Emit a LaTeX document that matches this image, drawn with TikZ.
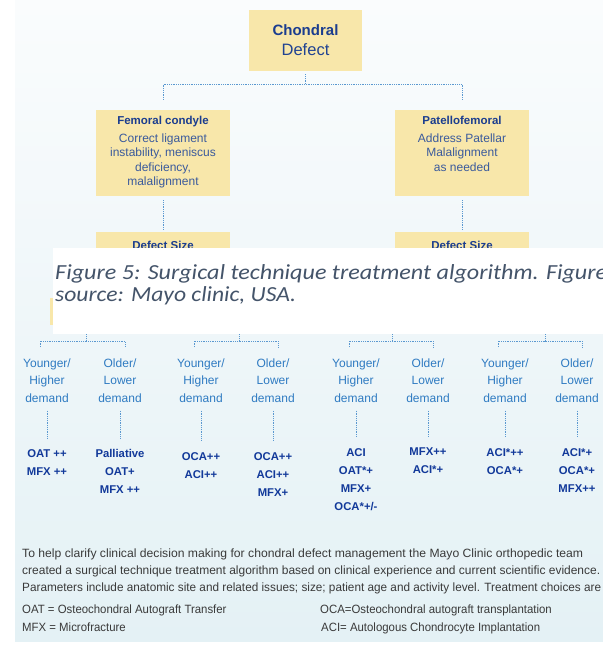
\documentclass[tikz,border=0pt]{standalone}
\usepackage{fontspec}
\usepackage{graphicx}
\usepackage{xcolor}
\usepackage{tikz}
\setmainfont{Liberation Sans}
\newfontfamily\narrowfont[FakeStretch=0.9]{Liberation Sans}
\newfontfamily\legendfont[FakeStretch=0.95]{Liberation Sans}
\newfontfamily\captionfont{Carlito}

\definecolor{boxyellow}{HTML}{F8E7AA}
\definecolor{headblue}{HTML}{1B3D8F}
\definecolor{bodyblue}{HTML}{3A5A9C}
\definecolor{ageblue}{HTML}{2F7BC2}
\definecolor{treatblue}{HTML}{12399A}
\definecolor{dotblue}{HTML}{5A98D0}
\definecolor{paragray}{HTML}{3A3A3A}
\definecolor{capgray}{HTML}{44546A}
\definecolor{paneltop}{HTML}{FAFCFD}
\definecolor{panelbottom}{HTML}{E4F1F5}

\tikzset{
  yellowbox/.style={fill=boxyellow, draw=none, inner sep=0pt},
  headtext/.style={text=headblue, font=\bfseries\fontsize{11.5}{14}\selectfont, inner sep=0pt, anchor=north},
  bodytext/.style={text=bodyblue, font=\fontsize{12}{14.5}\selectfont, align=center, inner sep=0pt, anchor=north},
  agetext/.style={text=ageblue, font=\fontsize{12}{17.5}\selectfont, align=center, inner sep=0pt, anchor=north},
  treattext/.style={text=treatblue, font=\bfseries\fontsize{11.3}{18}\selectfont, align=center, inner sep=0pt, anchor=north},
  link/.style={draw=dotblue, densely dotted, line width=0.8pt},
  paratext/.style={text=paragray, font=\narrowfont\fontsize{12}{17}\selectfont, inner sep=0pt, anchor=base west},
  legendtext/.style={paratext, font=\legendfont\fontsize{12}{17}\selectfont},
  captiontext/.style={text=capgray, font=\captionfont\itshape\fontsize{21.5}{22}\selectfont, inner sep=0pt, anchor=base west}
}

\begin{document}
\begin{tikzpicture}[x=1pt, y=-1pt]
\useasboundingbox (0,0) rectangle (603,646);
% background panel
\shade[top color=paneltop, bottom color=panelbottom] (15,0) rectangle (603,641);

%%% Draws upper part
% draws boxes
\node[yellowbox, minimum width=113pt, minimum height=61pt] (chondral) at (305.5,40.5) {};
\node[yellowbox, minimum width=134pt, minimum height=86pt] (femoral) at (163,153) {};
\node[yellowbox, minimum width=134pt, minimum height=86pt] (patello) at (462,153) {};
\node[yellowbox, minimum width=134pt, minimum height=60pt] (femsize) at (163,262) {};
\node[yellowbox, minimum width=134pt, minimum height=60pt] (patsize) at (462,262) {};
% labels boxes
\node[headtext, font=\bfseries\fontsize{15}{18}\selectfont] (chondralhead) at (305.5,24.5) {Chondral};
\node[bodytext, text=headblue!80!bodyblue, font=\fontsize{16.5}{19}\selectfont] (chondraltext) at (305.5,43) {Defect};
\node[headtext] (femoralhead) at (163,116) {Femoral condyle};
\node[bodytext] (femoraltext) at (163,133.5) {Correct ligament\\instability, meniscus\\deficiency,\\malalignment};
\node[headtext] (patellohead) at (462,116) {Patellofemoral};
\node[bodytext] (patellotext) at (462,133.5) {Address Patellar\\Malalignment\\as needed};
\node[headtext] (femsizehead) at (163,241) {Defect Size};
\node[headtext] (patsizehead) at (462,241) {Defect Size};
% draws edges
\draw[link] ([yshift=-3pt]chondral.south) -- ++(0,10) coordinate (split);
\draw[link] ([yshift=10pt]femoral.north) |- (split) -| ([yshift=10pt]patello.north);
\draw[link] ([yshift=-4pt]femoral.south) -- ([yshift=2pt]femsize.north);
\draw[link] ([yshift=-4pt]patello.south) -- ([yshift=2pt]patsize.north);

%%% Draws lower part
% draws boxes (mostly hidden)
\node[yellowbox, minimum width=72pt, minimum height=27pt] (size1) at (86,311.5) {};
\node[yellowbox, minimum width=72pt, minimum height=27pt] (size2) at (239,311.5) {};
\node[yellowbox, minimum width=72pt, minimum height=27pt] (size3) at (392,311.5) {};
\node[yellowbox, minimum width=72pt, minimum height=27pt] (size4) at (545,311.5) {};
% labels age groups
\node[agetext] (young1) at (47,358.5) {Younger/\\Higher\\demand};
\node[agetext] (old1) at (120,358.5) {Older/\\Lower\\demand};
\node[agetext] (young2) at (201,358.5) {Younger/\\Higher\\demand};
\node[agetext] (old2) at (273,358.5) {Older/\\Lower\\demand};
\node[agetext] (young3) at (356,358.5) {Younger/\\Higher\\demand};
\node[agetext] (old3) at (428,358.5) {Older/\\Lower\\demand};
\node[agetext] (young4) at (505,358.5) {Younger/\\Higher\\demand};
\node[agetext] (old4) at (577,358.5) {Older/\\Lower\\demand};
% labels treatments
\node[treattext] (ytreat1) at (47,449) {OAT ++\\MFX ++};
\node[treattext] (otreat1) at (120,449) {Palliative\\OAT+\\MFX ++};
\node[treattext] (ytreat2) at (201,452) {OCA++\\ACI++};
\node[treattext] (otreat2) at (273,452) {OCA++\\ACI++\\MFX+};
\node[treattext] (ytreat3) at (356,448) {ACI\\OAT*+\\MFX+\\OCA*+/-};
\node[treattext] (otreat3) at (428,448) {MFX++\\ACI*+};
\node[treattext] (ytreat4) at (505,448) {ACI*++\\OCA*+};
\node[treattext] (otreat4) at (577,448) {ACI*+\\OCA*+\\MFX++};
% draws edges
\foreach \g in {1,2,3,4}{
  \draw[link] (size\g.south) -- ++(0,16) coordinate (fork\g);
  \draw[link] ([xshift=-7pt,yshift=11.5pt]young\g.north) |- (fork\g) -| ([xshift=5pt,yshift=11.5pt]old\g.north);
  \draw[link] ([yshift=-8pt]young\g.south) -- ([yshift=11pt]ytreat\g.north);
  \draw[link] ([yshift=-8pt]old\g.south) -- ([yshift=11pt]otreat\g.north);
}

%%% Draws text below
\node[paratext] (para1) at (22,557) {\resizebox{561pt}{\height}{To help clarify clinical decision making for chondral defect management the Mayo Clinic orthopedic team}};
\node[paratext] (para2) at (22,574) {\resizebox{578pt}{\height}{created a surgical technique treatment algorithm based on clinical experience and current scientific evidence.}};
\node[paratext] (para3) at (22,591) {\resizebox{579pt}{\height}{Parameters include anatomic site and related issues; size; patient age and activity level. Treatment choices are}};
\node[legendtext] (oat) at (22,613) {OAT = Osteochondral Autograft Transfer};
\node[legendtext] (mfx) at (22,631) {MFX = Microfracture};
\node[legendtext] (oca) at (320,613) {OCA=Osteochondral autograft transplantation};
\node[legendtext] (aci) at (321,631) {ACI= Autologous Chondrocyte Implantation};

%%% Draws caption over the picture
\fill[white] (53,248) rectangle (603,334);
\node[captiontext] (caption1) at (55,279) {\resizebox{552pt}{\height}{Figure 5: Surgical technique treatment algorithm. Figure}};
\node[captiontext] (caption2) at (55,301) {\resizebox{241pt}{\height}{source: Mayo clinic, USA.}};
\end{tikzpicture}
\end{document}
